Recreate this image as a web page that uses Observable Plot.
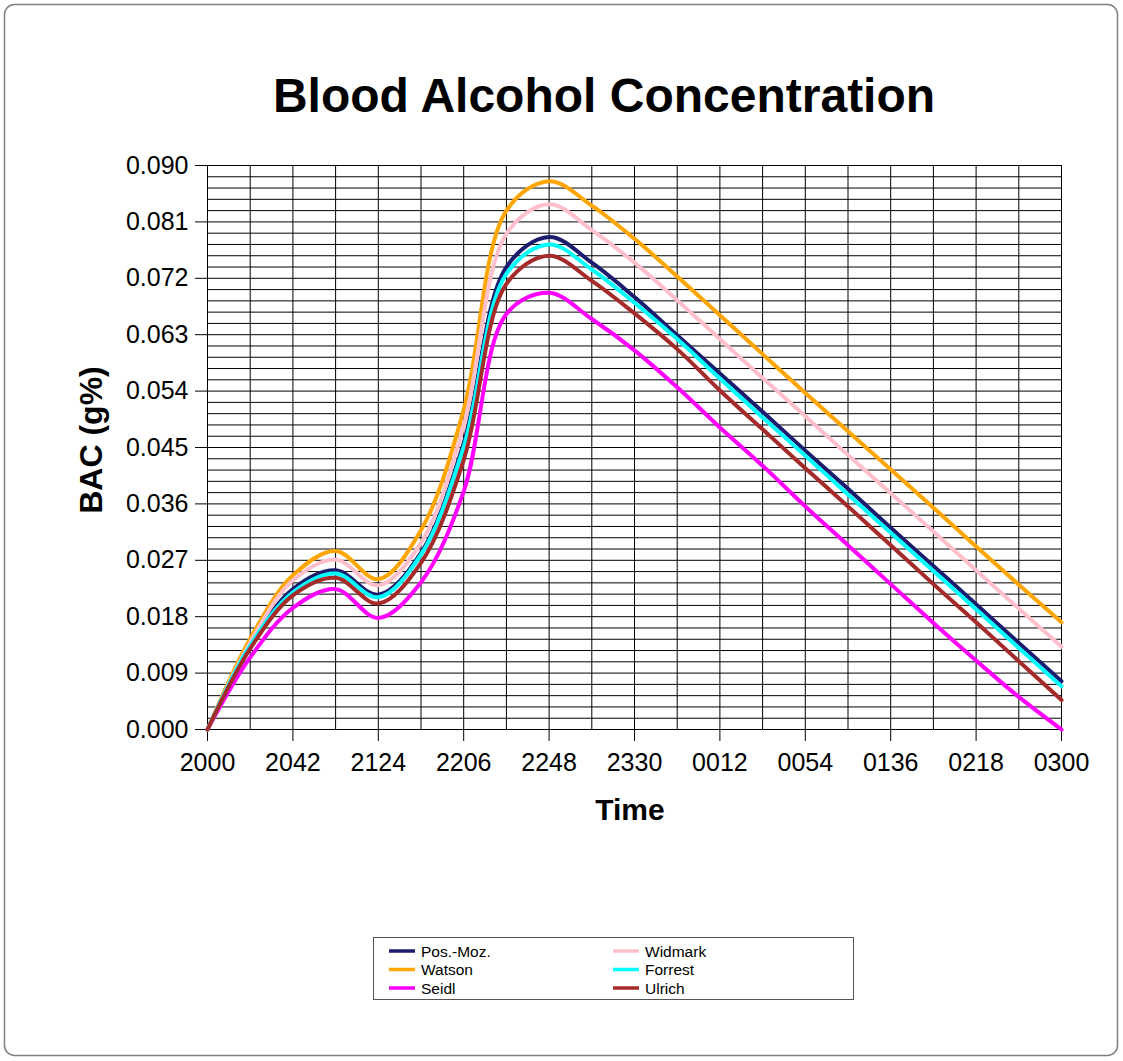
<!DOCTYPE html>
<html>
<head>
<meta charset="utf-8">
<script src="https://cdn.jsdelivr.net/npm/d3@7"></script>
<script src="https://cdn.jsdelivr.net/npm/@observablehq/plot@0.6"></script>
<style>
  body { margin: 0; background: #fff; }
  #page { position: relative; width: 1123px; height: 1061px; overflow: hidden; background: #fff;
          font-family: "Liberation Sans", Arial, sans-serif; }
  #page > svg { position: absolute; left: 0; top: 0; }
</style>
</head>
<body>
<div id="page"></div>
<script>
// ---- data (minutes after 20:00, sampled every 21 minutes) ----
const times = [0, 21, 42, 63, 84, 105, 126, 147, 168, 189, 210, 231, 252, 273, 294, 315, 336, 357, 378, 399, 420];
const majorTimes = [0, 42, 84, 126, 168, 210, 252, 294, 336, 378, 420];
const timeLabels = ["2000", "2042", "2124", "2206", "2248", "2330", "0012", "0054", "0136", "0218", "0300"];
const yTicks = [0, 0.009, 0.018, 0.027, 0.036, 0.045, 0.054, 0.063, 0.072, 0.081, 0.090];
const yTickLabels = ["0.000", "0.009", "0.018", "0.027", "0.036", "0.045", "0.054", "0.063", "0.072", "0.081", "0.090"];

const seriesNames = ["Pos.-Moz.", "Watson", "Seidl", "Widmark", "Forrest", "Ulrich"];
const seriesColors = ["#1c1c6e", "#ffa500", "#ff00ff", "#ffc0cb", "#00ffff", "#a52a2a"];

const posMoz  = [0, 0.0134, 0.0224, 0.0254, 0.0215, 0.0282, 0.0457, 0.0738, 0.0786, 0.0745, 0.0690, 0.0629, 0.0568, 0.0507, 0.0445, 0.0384, 0.0322, 0.0261, 0.0200, 0.0138, 0.0077];
const watson  = [0, 0.0145, 0.0246, 0.0285, 0.0240, 0.0318, 0.0510, 0.0828, 0.0875, 0.0836, 0.0783, 0.0723, 0.0661, 0.0599, 0.0537, 0.0476, 0.0415, 0.0354, 0.0292, 0.0231, 0.0171];
const seidl   = [0, 0.0115, 0.0194, 0.0224, 0.0178, 0.0235, 0.0380, 0.0663, 0.0697, 0.0655, 0.0605, 0.0546, 0.0482, 0.0421, 0.0356, 0.0294, 0.0232, 0.0170, 0.0110, 0.0052, 0.0000];
const widmark = [0, 0.0139, 0.0238, 0.0271, 0.0230, 0.0298, 0.0485, 0.0791, 0.0838, 0.0797, 0.0745, 0.0685, 0.0623, 0.0561, 0.0500, 0.0438, 0.0377, 0.0316, 0.0254, 0.0193, 0.0132];
const forrest = [0, 0.0134, 0.0219, 0.0249, 0.0211, 0.0279, 0.0451, 0.0727, 0.0774, 0.0734, 0.0681, 0.0623, 0.0560, 0.0498, 0.0437, 0.0375, 0.0314, 0.0253, 0.0192, 0.0130, 0.0069];
const ulrich  = [0, 0.0129, 0.0214, 0.0242, 0.0201, 0.0266, 0.0430, 0.0711, 0.0756, 0.0716, 0.0664, 0.0607, 0.0541, 0.0479, 0.0417, 0.0356, 0.0294, 0.0232, 0.0171, 0.0109, 0.0047];

const seriesValues = [posMoz, watson, seidl, widmark, forrest, ulrich];

// long-format table built from the arrays
const rows = [];
seriesNames.forEach((name, si) => {
  times.forEach((t, i) => rows.push({series: name, t, bac: seriesValues[si][i]}));
});

const yGrid = d3.range(0, 51).map(i => +(i * 0.0018).toFixed(4));

const W = 1123, H = 860;
const plot = Plot.plot({
  width: W,
  height: H,
  marginLeft: 207,
  marginRight: 62,
  marginTop: 165,
  marginBottom: H - 729,
  style: { fontFamily: "'Liberation Sans', Arial, sans-serif", fontSize: "25px", color: "#000", background: "transparent", overflow: "visible" },
  x: { domain: [0, 420], ticks: majorTimes, tickFormat: d => timeLabels[majorTimes.indexOf(d)], tickSize: 12, tickPadding: 12, label: null },
  y: { domain: [0, 0.09], ticks: yTicks, tickFormat: d => yTickLabels[yTicks.indexOf(d)], tickSize: 12, tickPadding: 7, label: null },
  color: { domain: seriesNames, range: seriesColors },
  marks: [
    Plot.ruleY(yGrid, { stroke: "#000", strokeWidth: 1 }),
    Plot.ruleX(times, { stroke: "#000", strokeWidth: 1 }),
    Plot.line(rows, { x: "t", y: "bac", z: "series", stroke: "series", strokeWidth: 4, curve: "catmull-rom", strokeLinejoin: "round", strokeLinecap: "round" })
  ]
});
const page = document.getElementById("page");
page.appendChild(plot);

// ---- overlay: border, titles, legend ----
const svg = d3.select(page).append("svg").attr("width", 1123).attr("height", 1061)
  .style("pointer-events", "none")
  .style("font-family", "'Liberation Sans', Arial, sans-serif");

svg.append("rect").attr("x", 4.5).attr("y", 4.5).attr("width", 1113).attr("height", 1051)
  .attr("rx", 10).attr("fill", "none").attr("stroke", "#808080").attr("stroke-width", 1.5);

svg.append("text").attr("x", 604).attr("y", 112).attr("text-anchor", "middle")
  .attr("font-size", 48).attr("font-weight", "bold").attr("fill", "#000")
  .text("Blood Alcohol Concentration");

svg.append("text").attr("x", 630).attr("y", 820).attr("text-anchor", "middle")
  .attr("font-size", 30).attr("font-weight", "bold").attr("fill", "#000")
  .text("Time");

svg.append("text").attr("transform", "translate(102,440) rotate(-90)").attr("text-anchor", "middle")
  .attr("font-size", 32).attr("font-weight", "bold").attr("fill", "#000")
  .text("BAC (g%)");

// legend
const lg = svg.append("g");
lg.append("rect").attr("x", 373.5).attr("y", 937.5).attr("width", 480).attr("height", 62)
  .attr("fill", "#fff").attr("stroke", "#555").attr("stroke-width", 1);
const rowY = [951, 969.5, 988];
const colX = [389, 613];
seriesNames.forEach((name, i) => {
  const c = Math.floor(i / 3), r = i % 3;
  const x0 = colX[c], y0 = rowY[r];
  lg.append("line").attr("x1", x0).attr("x2", x0 + 26).attr("y1", y0).attr("y2", y0)
    .attr("stroke", seriesColors[i]).attr("stroke-width", 3.5);
  lg.append("text").attr("x", x0 + 32).attr("y", y0 + 5.5).attr("font-size", 15.5).attr("fill", "#000").text(name);
});
</script>
</body>
</html>
